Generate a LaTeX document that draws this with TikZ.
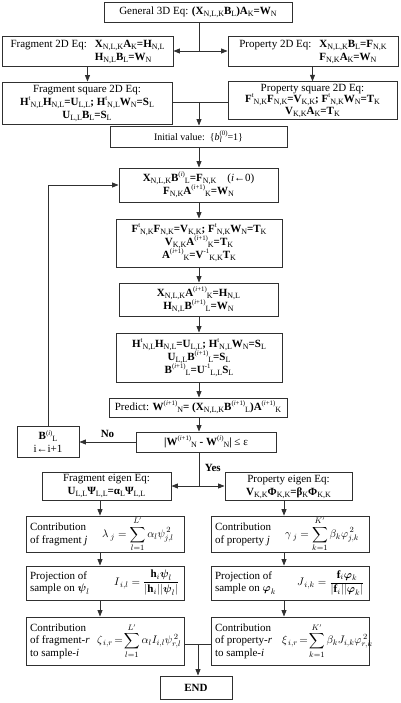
\documentclass[tikz,border=0pt]{standalone}
\usepackage{amsmath}
\usepackage{fontspec}
\setmainfont{Liberation Serif}
\usetikzlibrary{arrows.meta,calc}
\newcommand{\sbs}[1]{\raisebox{-2pt}{\fontsize{8}{8}\selectfont\mdseries #1}}
\newcommand{\sps}[1]{\raisebox{4.6pt}{\fontsize{6.8}{7}\selectfont\mdseries #1}}
\newcommand{\Bsub}[2]{\textbf{#1}\sbs{#2}}
\newcommand{\Bsup}[3]{\textbf{#1}\sps{#2}\sbs{#3}}
\newcommand{\Eq}{\textbf{=}}
\newcommand{\ip}{(\textit{i}+1)}
\newcommand{\vf}[1]{$\vcenter{\hbox{$\displaystyle #1$}}$}
\definecolor{lnc}{HTML}{303030}
\begin{document}
\begin{tikzpicture}[x=1pt,y=-1pt,
  box/.style={draw=lnc,line width=0.9pt,inner sep=2pt,align=center,font=\fontsize{11}{13}\selectfont},
  sbox/.style={draw=lnc,line width=0.9pt,inner xsep=4pt,inner ysep=1pt,font=\fontsize{11}{12.5}\selectfont},
  ln/.style={draw=lnc,line width=0.9pt},
  arr/.style={ln,-{Triangle[length=6.5pt,width=5pt]}},
  lbl/.style={font=\fontsize{11}{12}\selectfont\bfseries}]
\useasboundingbox (0,0) rectangle (400,703);
\coordinate (col) at (199,0);
\coordinate (lx) at (100,0);
\coordinate (rx) at (284,0);
% top
\node[box,minimum width=188pt,minimum height=20pt] (gen) at (198,12)
  {General 3D Eq: \textbf{(}\Bsub{X}{N,L,K}\Bsub{B}{L}\textbf{)}\Bsub{A}{K}\Eq\Bsub{W}{N}};
\node[box,minimum width=171pt,minimum height=28pt] (frag2) at (87.5,51)
  {\begin{tabular}{@{}l@{\hspace{8pt}}l@{}}Fragment 2D Eq: & \Bsub{X}{N,L,K}\Bsub{A}{K}\Eq\Bsub{H}{N,L}\\ & \Bsub{H}{N,L}\Bsub{B}{L}\Eq\Bsub{W}{N}\end{tabular}};
\node[box,minimum width=170pt,minimum height=28pt] (prop2) at (313,51)
  {\begin{tabular}{@{}l@{\hspace{8pt}}l@{}}Property 2D Eq: & \Bsub{X}{N,L,K}\Bsub{B}{L}\Eq\Bsub{F}{N,K}\\ & \Bsub{F}{N,K}\Bsub{A}{K}\Eq\Bsub{W}{N}\end{tabular}};
\node[box,minimum width=170pt,minimum height=42pt] (fragsq) at (87,103)
  {Fragment square 2D Eq:\\ \Bsup{H}{t}{N,L}\Bsub{H}{N,L}\Eq\Bsub{U}{L,L}\textbf{;} \Bsup{H}{t}{N,L}\Bsub{W}{N}\Eq\Bsub{S}{L}\\ \Bsub{U}{L,L}\Bsub{B}{L}\Eq\Bsub{S}{L}};
\node[box,minimum width=169pt,minimum height=35pt,font=\fontsize{11}{11.5}\selectfont] (propsq) at (312.5,100.5)
  {Property square 2D Eq:\\ \Bsup{F}{t}{N,K}\Bsub{F}{N,K}\Eq\Bsub{V}{K,K}\textbf{;} \Bsup{F}{t}{N,K}\Bsub{W}{N}\Eq\Bsub{T}{K}\\ \Bsub{V}{K,K}\Bsub{A}{K}\Eq\Bsub{T}{K}};
\node[box,minimum width=177pt,minimum height=21pt,font=\fontsize{10}{12}\selectfont] (init) at (198.5,136.5)
  {Initial value:\ \ \{\textit{b}\rlap{\sbs{\textit{l}}}\sps{(0)}=1\}};
% iteration
\node[box,minimum width=159pt,minimum height=34pt] (b1) at (198.5,185)
  {\Bsub{X}{N,L,K}\Bsup{B}{(\textit{i})}{L}\Eq\Bsub{F}{N,K}\quad(\textit{i}←0)\\ \Bsub{F}{N,K}\Bsup{A}{\ip}{K}\Eq\Bsub{W}{N}};
\node[box,minimum width=166pt,minimum height=48pt] (b2) at (199,243)
  {\Bsup{F}{t}{N,K}\Bsub{F}{N,K}\Eq\Bsub{V}{K,K}\textbf{;} \Bsup{F}{t}{N,K}\Bsub{W}{N}\Eq\Bsub{T}{K}\\ \Bsub{V}{K,K}\Bsup{A}{\ip}{K}\Eq\Bsub{T}{K}\\ \Bsup{A}{\ip}{K}\Eq\Bsup{V}{-1}{K,K}\Bsub{T}{K}};
\node[box,minimum width=159pt,minimum height=33pt] (b3) at (198.5,299.5)
  {\Bsub{X}{N,L,K}\Bsup{A}{\ip}{K}\Eq\Bsub{H}{N,L}\\ \Bsub{H}{N,L}\Bsup{B}{\ip}{L}\Eq\Bsub{W}{N}};
\node[box,minimum width=166pt,minimum height=49pt] (b4) at (199,357.5)
  {\Bsup{H}{t}{N,L}\Bsub{H}{N,L}\Eq\Bsub{U}{L,L}\textbf{;} \Bsup{H}{t}{N,L}\Bsub{W}{N}\Eq\Bsub{S}{L}\\ \Bsub{U}{L,L}\Bsup{B}{\ip}{L}\Eq\Bsub{S}{L}\\ \Bsup{B}{\ip}{L}\Eq\Bsup{U}{-1}{L,L}\Bsub{S}{L}};
\node[box,minimum width=178pt,minimum height=19pt] (pred) at (198,407.5)
  {Predict: \Bsup{W}{\ip}{N}\Eq\ \textbf{(}\Bsub{X}{N,L,K}\Bsup{B}{\ip}{L}\textbf{)}\Bsup{A}{\ip}{K}};
\node[box,minimum width=140pt,minimum height=20pt] (conv) at (206,442)
  {\textbf{|}\Bsup{W}{\ip}{N} \textbf{-}\ \Bsup{W}{(\textit{i})}{N}\textbf{|} ≤ ε};
\node[box,minimum width=62pt,minimum height=31pt] (bbox) at (48,441.5)
  {\Bsup{B}{(\textit{i})}{L}\\ i←i+1};
% eigen
\node[box,minimum width=129pt,minimum height=28pt] (fe) at (106.5,486)
  {Fragment eigen Eq:\\ \Bsub{U}{L,L}\Bsub{Ψ}{L,L}\Eq\Bsub{α}{L}\Bsub{Ψ}{L,L}};
\node[box,minimum width=127pt,minimum height=27pt] (pe) at (288.5,486.5)
  {Property eigen Eq:\\ \Bsub{V}{K,K}\Bsub{Φ}{K,K}\Eq\Bsub{β}{K}\Bsub{Φ}{K,K}};
% contributions
\node[sbox,minimum width=158pt,minimum height=35pt] (lc) at (105,534.5)
  {\parbox[c]{72pt}{\raggedright Contribution\\of fragment \textit{j}}\makebox[78pt][l]{\vf{\lambda_{\;j}=\sum_{l=1}^{L'}\alpha_l\psi_{j,l}^{\,2}}}};
\node[sbox,minimum width=158pt,minimum height=35pt] (rc) at (290,534.5)
  {\parbox[c]{70pt}{\raggedright Contribution\\of property \textit{j}}\makebox[80pt][l]{\vf{\gamma_{\;j}=\sum_{k=1}^{K'}\beta_k\varphi_{j,k}^{\,2}}}};
\node[sbox,minimum width=158pt,minimum height=34pt] (lp) at (105,583)
  {\parbox[c]{84pt}{\raggedright Projection of\\sample on $\boldsymbol{\psi}_l$}\makebox[66pt][l]{\vf{I_{\,i,l}=\frac{\mathbf{h}_i\boldsymbol{\psi}_l}{|\mathbf{h}_i||\boldsymbol{\psi}_l|}}}};
\node[sbox,minimum width=158pt,minimum height=34pt] (rp) at (290,583)
  {\parbox[c]{82pt}{\raggedright Projection of\\sample on $\boldsymbol{\varphi}_k$}\makebox[68pt][l]{\vf{J_{\,i,k}=\frac{\mathbf{f}_i\boldsymbol{\varphi}_k}{|\mathbf{f}_i||\boldsymbol{\varphi}_k|}}}};
\node[sbox,minimum width=158pt,minimum height=48pt] (lr) at (105,641)
  {\parbox[c]{67pt}{\raggedright Contribution\\of fragment-\textit{r}\\to sample-\textit{i}}\makebox[83pt][l]{\vf{\zeta_{\,i,r}\!=\!\sum_{l=1}^{L'}\alpha_l I_{i,l}\psi_{r,l}^{\,2}}}};
\node[sbox,minimum width=158pt,minimum height=48pt] (rr) at (290,641)
  {\parbox[c]{67pt}{\raggedright Contribution\\of property-\textit{r}\\to sample-\textit{i}}\makebox[83pt][l]{\vf{\xi_{\,i,r}\!=\!\sum_{k=1}^{K'}\beta_k J_{i,k}\varphi_{r,k}^{\,2}}}};
\node[box,minimum width=72pt,minimum height=23pt] (end) at (196,687.5) {\textbf{END}};
% connectors
\coordinate (c1) at (199,51);
\draw[ln] (gen.south -| c1) -- (c1);
\draw[arr] (c1) -- (frag2.east |- c1);
\draw[arr] (c1) -- (prop2.west |- c1);
\draw[arr] (frag2.south) -- (frag2.south |- fragsq.north);
\draw[arr] (prop2.south -| propsq.north) -- (propsq.north);
\coordinate (c2) at (199,102);
\draw[ln] (fragsq.east |- c2) -- (propsq.west |- c2);
\draw[arr] (c2) -- (init.north -| c2);
\draw[arr] (init.south -| col) -- (b1.north -| col);
\draw[arr] (b1.south -| col) -- (b2.north -| col);
\draw[arr] (b2.south -| col) -- (b3.north -| col);
\draw[arr] (b3.south -| col) -- (b4.north -| col);
\draw[arr] (b4.south -| col) -- (pred.north -| col);
\draw[arr] (pred.south -| col) -- (conv.north -| col);
\draw[arr] (conv.west) -- (bbox.east |- conv.west) node[lbl,midway,above=1pt] {No};
\draw[arr] (bbox.north) |- (b1.west);
\coordinate (c3) at (199,486);
\draw[ln] (conv.south -| c3) -- (c3) node[lbl,pos=0.45,right=2pt] {Yes};
\draw[arr] (c3) -- (fe.east |- c3);
\draw[arr] (c3) -- (pe.west |- c3);
\draw[arr] (fe.south -| lx) -- (lc.north -| lx);
\draw[arr] (lc.south -| lx) -- (lp.north -| lx);
\draw[arr] (lp.south -| lx) -- (lr.north -| lx);
\draw[arr] (pe.south -| rx) -- (rc.north -| rx);
\draw[arr] (rc.south -| rx) -- (rp.north -| rx);
\draw[arr] (rp.south -| rx) -- (rr.north -| rx);
\coordinate (c4) at (198,644);
\draw[ln] (lr.east |- c4) -- (rr.west |- c4);
\draw[arr] (c4) -- (end.north -| c4);
\end{tikzpicture}
\end{document}
